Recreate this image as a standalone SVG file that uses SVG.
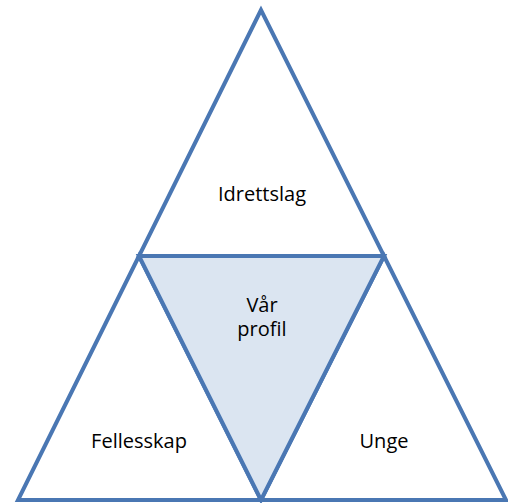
<svg xmlns="http://www.w3.org/2000/svg" width="508" height="503" viewBox="0 0 508 503">
<style>
.tri{fill:#ffffff;stroke:#4a77b3;stroke-width:4;stroke-linejoin:miter}
.mid{fill:#dbe5f1;stroke:#4a77b3;stroke-width:4}
.lbl{font-family:"Open Sans","Noto Sans",sans-serif;font-size:20px;fill:#000;text-anchor:middle}
</style>
<rect width="508" height="503" fill="#ffffff"/>
<g id="idrettslag">
<polygon class="tri" points="261,10 139,256 384,256"/>
<text class="lbl" x="262" y="201">Idrettslag</text>
</g>
<g id="fellesskap">
<polygon class="tri" points="139,256 18,500 261,500"/>
<text class="lbl" x="139" y="448">Fellesskap</text>
</g>
<g id="unge">
<polygon class="tri" points="384,256 261,500 506,500"/>
<text class="lbl" x="384" y="448">Unge</text>
</g>
<g id="profil">
<polygon class="mid" points="139,256 384,256 261,500"/>
<text class="lbl" x="262" y="312"><tspan x="262" y="312">Vår</tspan><tspan x="262" y="336">profil</tspan></text>
</g>
</svg>
